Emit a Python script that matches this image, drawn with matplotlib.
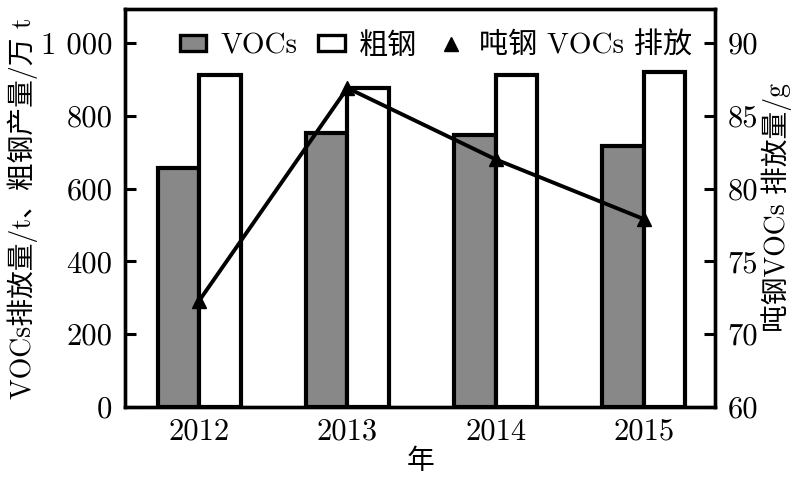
import matplotlib.pyplot as plt
import numpy as np
from matplotlib.patches import Patch
from matplotlib.lines import Line2D

plt.rcParams['font.family'] = ['cmr10', 'Noto Sans CJK SC', 'DejaVu Sans']
plt.rcParams['axes.unicode_minus'] = False

years = ['2012', '2013', '2014', '2015']
vocs = [657, 753, 748, 718]          # VOCs 排放量 / t
steel = [912, 876, 912, 920]         # 粗钢产量 / 万 t
per_ton = [72.3, 86.9, 82.0, 77.9]   # 吨钢 VOCs 排放量 / g

left_ticks = [0, 200, 400, 600, 800, 1000]
left_labels = ['0', '200', '400', '600', '800', '1 000']
# right axis is broken at the bottom: 60 sits where 65 would be
right_ticks = [65, 70, 75, 80, 85, 90]
right_labels = ['60', '70', '75', '80', '85', '90']

fig = plt.figure(figsize=(8.02, 4.88), dpi=100)
ax = fig.add_axes([0.156, 0.166, 0.7355, 0.8156])
ax2 = ax.twinx()

x = np.arange(len(years))
w = 0.28
ax.bar(x - w / 2, vocs, w, color='#888888', edgecolor='black', linewidth=3.0, zorder=2)
ax.bar(x + w / 2, steel, w, color='white', edgecolor='black', linewidth=3.0, zorder=2)

ax.set_xlim(-0.5, 3.48)
ax.set_ylim(0, 1093)
ax.set_xticks(x)
ax.set_xticklabels(years)
ax.set_yticks(left_ticks)
ax.set_yticklabels(left_labels)
ax.tick_params(axis='y', direction='in', length=8, width=2.2, labelsize=22, pad=9)
ax.tick_params(axis='x', length=0, labelsize=22, pad=8)

ax2.plot(x, per_ton, color='black', linewidth=2.8, marker='^', markersize=10, zorder=3)
ax2.set_ylim(65, 65 + 1093 / 40)
ax2.set_yticks(right_ticks)
ax2.set_yticklabels(right_labels)
ax2.tick_params(axis='y', direction='in', length=8, width=2.2, labelsize=22, pad=9)

for a in (ax, ax2):
    for s in a.spines.values():
        s.set_linewidth(2.4)

ax.set_ylabel('VOCs排放量/t、粗钢产量/万 t', fontsize=20, labelpad=2)
ax2.set_ylabel('吨钢VOCs 排放量/g', fontsize=20, labelpad=2)
ax.set_xlabel('年', fontsize=20, labelpad=2)

handles = [
    Patch(facecolor='#888888', edgecolor='black', linewidth=2.4),
    Patch(facecolor='white', edgecolor='black', linewidth=2.4),
    Line2D([], [], color='black', linestyle='none', marker='^', markersize=10),
]
ax2.legend(handles, ['VOCs', '粗钢', '吨钢 VOCs 排放'], loc='upper right',
           bbox_to_anchor=(1.0, 1.0), ncol=3, frameon=False, fontsize=21,
           handlelength=0.9, handleheight=0.5, handletextpad=0.5, columnspacing=0.7,
           borderaxespad=0.4)

fig.savefig('out.png', dpi=100)
